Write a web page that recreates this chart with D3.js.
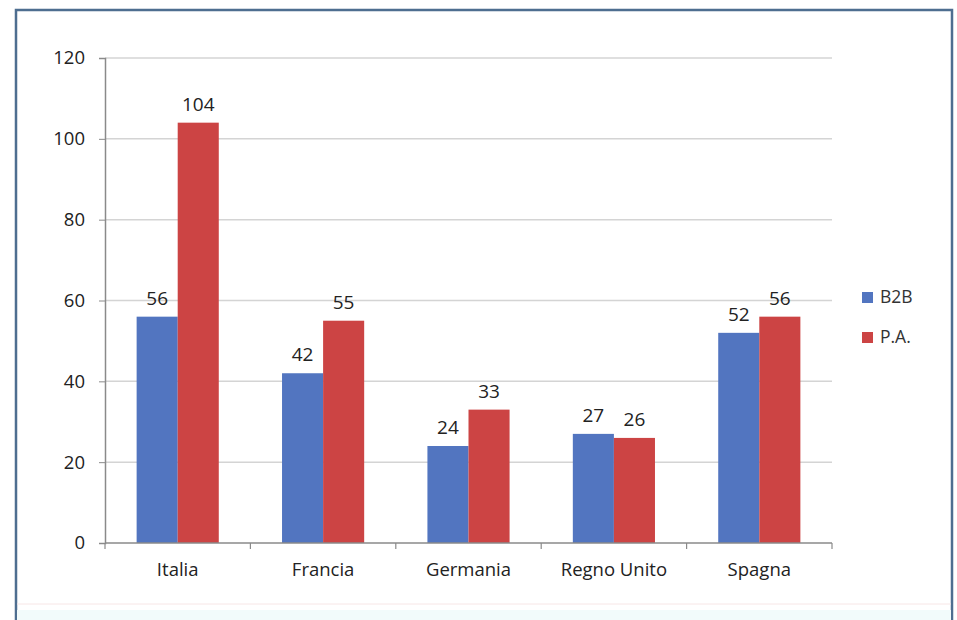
<!DOCTYPE html>
<html><head><meta charset="utf-8">
<script src="https://cdn.jsdelivr.net/npm/d3@7"></script>
<style>body{margin:0;background:#fff}svg{display:block}</style>
</head><body>
<svg id="c" width="957" height="620"></svg>
<script>
const categories = ["Italia","Francia","Germania","Regno Unito","Spagna"];
const seriesNames = ["B2B","P.A."];
const b2b = [56,42,24,27,52];
const pa = [104,55,33,26,56];
const yTicks = [0,20,40,60,80,100,120];
const colors = ["#5275c0","#cc4444"];

const svg = d3.select("#c");
const font = "'Open Sans', 'Liberation Sans', sans-serif";
// frame (open at bottom)
svg.append("path").attr("d","M16,620 L16,10 L952,10 L952,620")
  .attr("fill","none").attr("stroke","#4e6e90").attr("stroke-width",2.5);
svg.append("line").attr("x1",17).attr("x2",951).attr("y1",604).attr("y2",604)
  .attr("stroke","#f7e6e6").attr("stroke-width",1);
svg.append("rect").attr("x",17).attr("y",610).attr("width",934).attr("height",10).attr("fill","#f2fbfb");

const L=105,R=832,T=58,B=543;
const x = d3.scaleBand().domain(categories).range([L,R]).paddingInner(0).paddingOuter(0);
const xs = d3.scaleBand().domain(seriesNames).range([0,x.bandwidth()]).paddingInner(0).paddingOuter(0.77);
const y = d3.scaleLinear().domain([0,120]).range([B,T]);

const g = svg.append("g");
g.selectAll("line.grid").data(yTicks.filter(d=>d>0)).join("line")
  .attr("x1",L).attr("x2",R).attr("y1",d=>y(d)).attr("y2",d=>y(d))
  .attr("stroke","#d4d4d4").attr("stroke-width",1.5);

const yAxis = g.append("g").attr("transform",`translate(${L},0)`)
  .call(d3.axisLeft(y).tickValues(yTicks).tickSize(6).tickPadding(14));
yAxis.select(".domain").attr("stroke","#8a8a8a").attr("stroke-width",1.5);
yAxis.selectAll(".tick line").attr("stroke","#8a8a8a");
yAxis.selectAll("text").attr("font-family",font).attr("font-size",18.5).attr("fill","#222");

const data = categories.map((c,i)=>({c, vals:[b2b[i],pa[i]]}));
const grp = g.selectAll("g.cat").data(data).join("g").attr("transform",d=>`translate(${x(d.c)},0)`);
grp.selectAll("rect").data(d=>d.vals.map((v,j)=>({v,s:seriesNames[j],j}))).join("rect")
  .attr("x",d=>xs(d.s)).attr("width",xs.bandwidth())
  .attr("y",d=>y(d.v)).attr("height",d=>B-y(d.v)).attr("fill",d=>colors[d.j]);
grp.selectAll("text").data(d=>d.vals.map((v,j)=>({v,s:seriesNames[j]}))).join("text")
  .attr("x",d=>xs(d.s)+xs.bandwidth()/2).attr("y",d=>y(d.v)-12)
  .attr("text-anchor","middle").attr("font-family",font).attr("font-size",19).attr("fill","#222")
  .text(d=>d.v);

const xAxis = g.append("g").attr("transform",`translate(0,${B})`)
  .call(d3.axisBottom(x).tickSize(0).tickPadding(20));
xAxis.select(".domain").remove();
xAxis.selectAll("text").attr("font-family",font).attr("font-size",18.5).attr("fill","#222");
g.append("line").attr("x1",L).attr("x2",R).attr("y1",B).attr("y2",B).attr("stroke","#8a8a8a").attr("stroke-width",1.5);
g.selectAll("line.ct").data(d3.range(categories.length+1)).join("line")
  .attr("x1",i=>L+i*x.step()).attr("x2",i=>L+i*x.step()).attr("y1",B).attr("y2",B+6)
  .attr("stroke","#8a8a8a").attr("stroke-width",1.2);

const lg = svg.append("g").attr("transform","translate(862,297)");
seriesNames.forEach((s,i)=>{
  const r = lg.append("g").attr("transform",`translate(0,${i*40})`);
  r.append("rect").attr("x",0).attr("y",-5).attr("width",11).attr("height",11).attr("fill",colors[i]);
  r.append("text").attr("x",18).attr("y",0).attr("dy","0.35em").attr("font-family",font).attr("font-size",17.5).attr("fill","#333").text(s);
});
</script>
</body></html>
